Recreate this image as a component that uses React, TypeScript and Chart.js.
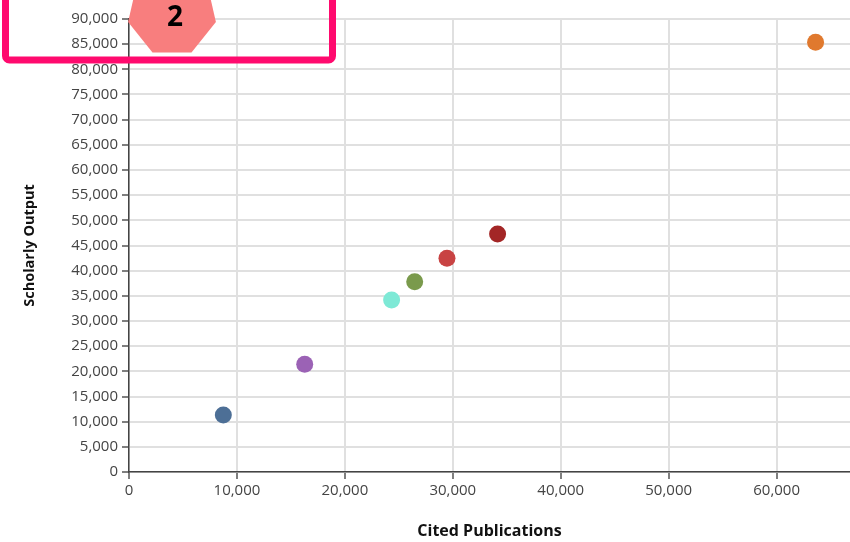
import React, { useEffect, useRef } from "react";
import { Chart, registerables } from "chart.js";

Chart.register(...registerables);

const citedPublications = [8740, 16280, 24330, 26470, 29460, 34150, 63610];
const scholarlyOutput = [11330, 21400, 34180, 37810, 42460, 47290, 85380];
const pointColors = ["#4d6f96", "#9b62b5", "#7ee9d6", "#7a9a4c", "#c84343", "#a32626", "#e0792e"];

const xTitle = "Cited Publications";
const yTitle = "Scholarly Output";
const badgeLabel = "2";

const xTickValues = [0, 10000, 20000, 30000, 40000, 50000, 60000];
const yTickValues = [
  0, 5000, 10000, 15000, 20000, 25000, 30000, 35000, 40000, 45000,
  50000, 55000, 60000, 65000, 70000, 75000, 80000, 85000, 90000,
];
const xMin = 0;
const xMax = 66800;
const yMin = 0;
const yMax = 90000;

const fmt = (v: number) => v.toLocaleString("en-US");

export default function App() {
  const ref = useRef<HTMLCanvasElement | null>(null);

  useEffect(() => {
    if (!ref.current) return;
    const chart = new Chart(ref.current, {
      type: "scatter",
      data: {
        datasets: [
          {
            data: citedPublications.map((x, i) => ({ x, y: scholarlyOutput[i] })),
            backgroundColor: pointColors,
            borderColor: pointColors,
            borderWidth: 0,
            pointRadius: 8.5,
            pointHoverRadius: 8.5,
          },
        ],
      },
      options: {
        responsive: false,
        animation: false,
        layout: { autoPadding: false, padding: { top: 19, right: 0, left: 0, bottom: 0 } },
        plugins: { legend: { display: false }, tooltip: { enabled: false } },
        scales: {
          x: {
            type: "linear",
            min: xMin,
            max: xMax,
            afterBuildTicks: (s: any) => {
              s.ticks = xTickValues.map((value) => ({ value }));
            },
            afterFit: (s: any) => {
              s.height = 70;
            },
            ticks: {
              autoSkip: false,
              maxRotation: 0,
              padding: 3,
              color: "#444",
              font: { family: "Open Sans", size: 15 },
              callback: (v: any) => fmt(Number(v)),
            },
            grid: { color: "#e0e0e0", lineWidth: 2, tickLength: 7, tickColor: "#555", tickWidth: 1.5 },
            border: { color: "#444", width: 1.5 },
            title: {
              display: true,
              text: xTitle,
              color: "#111",
              font: { family: "Open Sans", size: 16, weight: "bold" },
              padding: { top: 0, bottom: 1 },
            },
          },
          y: {
            type: "linear",
            min: yMin,
            max: yMax,
            afterBuildTicks: (s: any) => {
              s.ticks = yTickValues.map((value) => ({ value }));
            },
            afterFit: (s: any) => {
              s.width = 129;
            },
            ticks: {
              autoSkip: false,
              padding: 4,
              color: "#444",
              font: { family: "Open Sans", size: 15 },
              callback: (v: any) => fmt(Number(v)),
            },
            grid: { color: "#e0e0e0", lineWidth: 2, tickLength: 7, tickColor: "#555", tickWidth: 1.5 },
            border: { color: "#444", width: 1.5 },
            title: {
              display: true,
              text: yTitle,
              color: "#111",
              font: { family: "Open Sans", size: 14.5, weight: "bold" },
              padding: { top: 21, bottom: 0 },
            },
          },
        },
      },
    });
    return () => chart.destroy();
  }, []);

  const cx = 172;
  const cy = 12;
  const R = 45;
  const hept = Array.from({ length: 7 }, (_, k) => {
    const a = -Math.PI / 2 + (k * 2 * Math.PI) / 7;
    return `${(cx + R * Math.cos(a)).toFixed(1)},${(cy + R * Math.sin(a)).toFixed(1)}`;
  }).join(" ");

  return (
    <div style={{ position: "absolute", left: 0, top: 0, width: 850, height: 542, background: "#fff" }}>
      <canvas ref={ref} width={850} height={542} style={{ display: "block" }} />
      <svg
        width={850}
        height={542}
        style={{ position: "absolute", left: 0, top: 0, pointerEvents: "none" }}
      >
        <rect x={5.5} y={-12} width={327} height={72} rx={4} fill="none" stroke="#ff0a6e" strokeWidth={7} />
        <polygon points={hept} fill="#f87e7e" />
        <text
          x={175}
          y={26}
          textAnchor="middle"
          fontFamily="Open Sans"
          fontWeight="bold"
          fontSize={28}
          fill="#000"
        >
          {badgeLabel}
        </text>
      </svg>
    </div>
  );
}
